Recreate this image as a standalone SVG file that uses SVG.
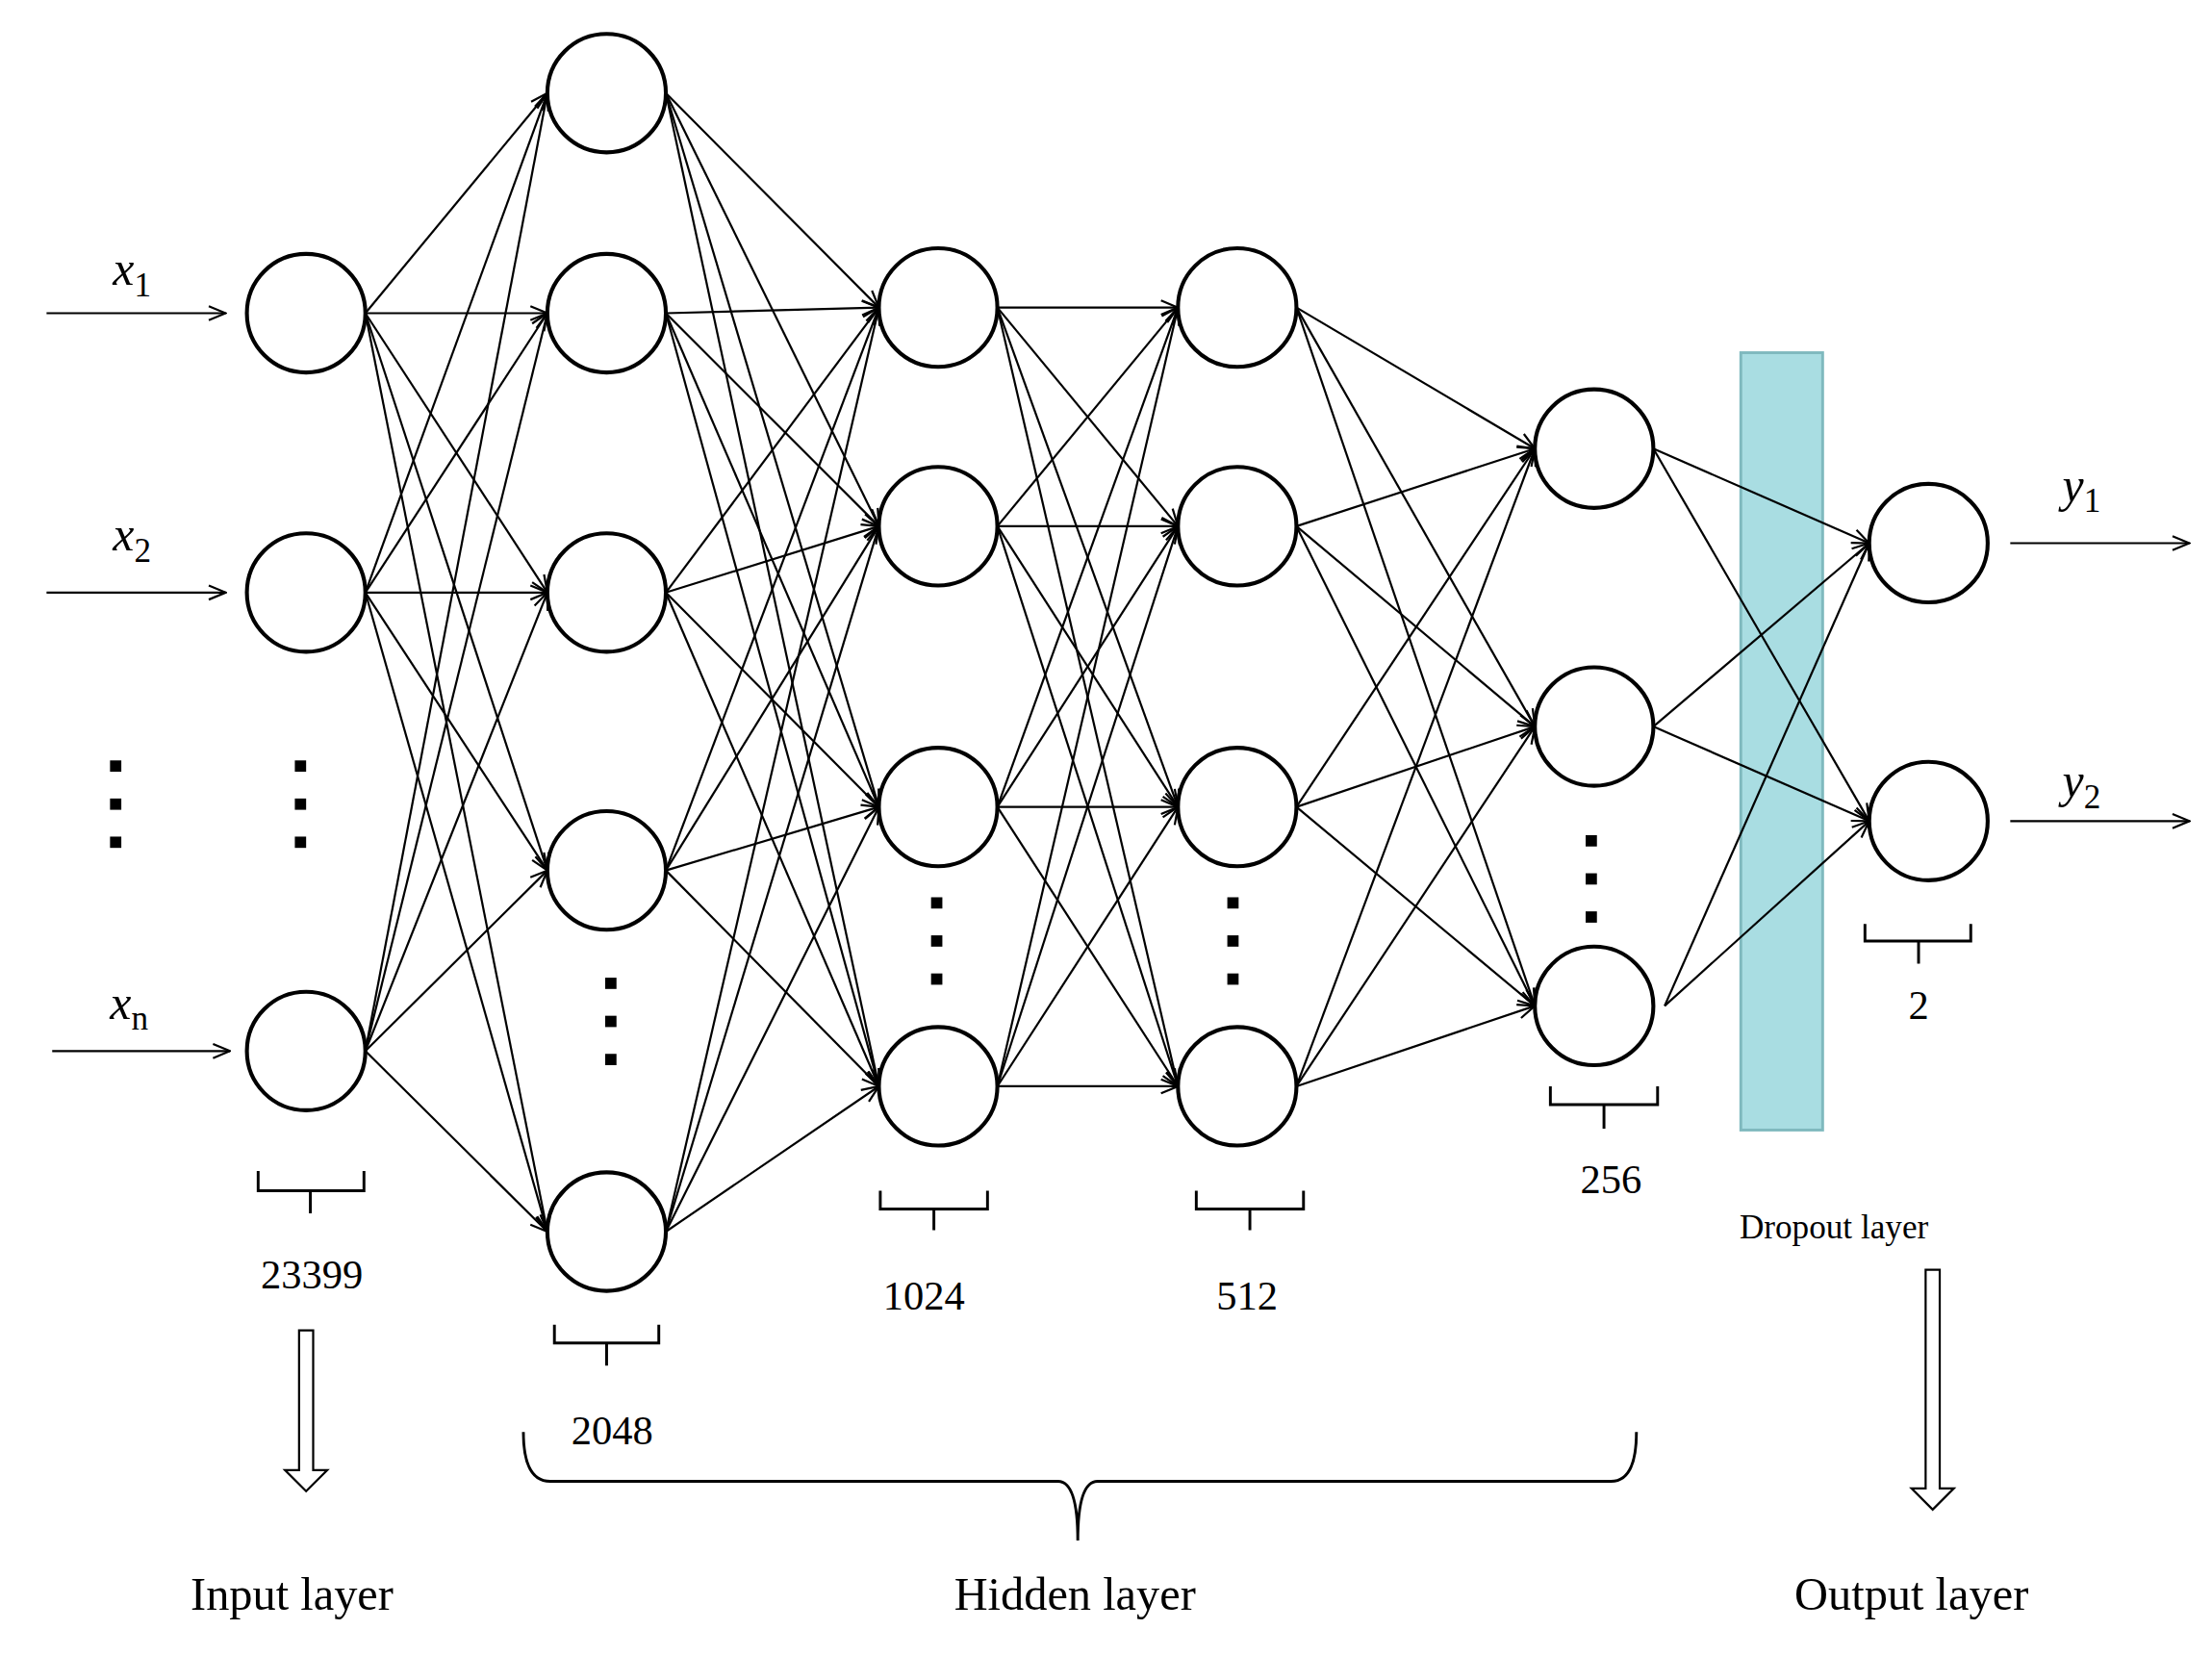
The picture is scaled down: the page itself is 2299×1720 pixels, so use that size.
<svg xmlns="http://www.w3.org/2000/svg" width="2299" height="1720" viewBox="0 0 2299 1720">
<style>
.n{fill:#fff;stroke:#000;stroke-width:2.8}
.c{stroke:#000;stroke-width:1.5;fill:none;marker-end:url(#a)}
.b{stroke:#000;stroke-width:2;fill:none}
.t{font-family:"Liberation Serif",serif;fill:#000}
.d{fill:#000}
</style>
<defs>
<marker id="a" markerUnits="userSpaceOnUse" markerWidth="14" markerHeight="12" refX="13" refY="6" orient="auto"><path d="M1,1 L13,6 L1,11" fill="none" stroke="#000" stroke-width="1.5"/></marker>
</defs>
<rect width="2299" height="1720" fill="#fff"/>
<g transform="scale(1.4662)">
<rect id="dropout" x="1234" y="250" width="58" height="551" fill="#a9dde2" stroke="#7fb9be" stroke-width="2"/>
<g id="connectors">
<path class="c" d="M33,222H160"/><path class="c" d="M33,420H160"/><path class="c" d="M37,745H163"/>
<path class="c" d="M1425,385H1552"/><path class="c" d="M1425,582H1552"/>
<path class="c" d="M259,222L388,66"/><path class="c" d="M259,222L388,222"/><path class="c" d="M259,222L388,420"/><path class="c" d="M259,222L388,617"/><path class="c" d="M259,222L388,873"/>
<path class="c" d="M259,420L388,66"/><path class="c" d="M259,420L388,222"/><path class="c" d="M259,420L388,420"/><path class="c" d="M259,420L388,617"/><path class="c" d="M259,420L388,873"/>
<path class="c" d="M259,745L388,66"/><path class="c" d="M259,745L388,222"/><path class="c" d="M259,745L388,420"/><path class="c" d="M259,745L388,617"/><path class="c" d="M259,745L388,873"/>
<path class="c" d="M472,66L623,218"/><path class="c" d="M472,66L623,373"/><path class="c" d="M472,66L623,572"/><path class="c" d="M472,66L623,770"/>
<path class="c" d="M472,222L623,218"/><path class="c" d="M472,222L623,373"/><path class="c" d="M472,222L623,572"/><path class="c" d="M472,222L623,770"/>
<path class="c" d="M472,420L623,218"/><path class="c" d="M472,420L623,373"/><path class="c" d="M472,420L623,572"/><path class="c" d="M472,420L623,770"/>
<path class="c" d="M472,617L623,218"/><path class="c" d="M472,617L623,373"/><path class="c" d="M472,617L623,572"/><path class="c" d="M472,617L623,770"/>
<path class="c" d="M472,873L623,218"/><path class="c" d="M472,873L623,373"/><path class="c" d="M472,873L623,572"/><path class="c" d="M472,873L623,770"/>
<path class="c" d="M707,218L835,218"/><path class="c" d="M707,218L835,373"/><path class="c" d="M707,218L835,572"/><path class="c" d="M707,218L835,770"/>
<path class="c" d="M707,373L835,218"/><path class="c" d="M707,373L835,373"/><path class="c" d="M707,373L835,572"/><path class="c" d="M707,373L835,770"/>
<path class="c" d="M707,572L835,218"/><path class="c" d="M707,572L835,373"/><path class="c" d="M707,572L835,572"/><path class="c" d="M707,572L835,770"/>
<path class="c" d="M707,770L835,218"/><path class="c" d="M707,770L835,373"/><path class="c" d="M707,770L835,572"/><path class="c" d="M707,770L835,770"/>
<path class="c" d="M919,218L1088,318"/><path class="c" d="M919,218L1088,515"/><path class="c" d="M919,218L1088,713"/>
<path class="c" d="M919,373L1088,318"/><path class="c" d="M919,373L1088,515"/><path class="c" d="M919,373L1088,713"/>
<path class="c" d="M919,572L1088,318"/><path class="c" d="M919,572L1088,515"/><path class="c" d="M919,572L1088,713"/>
<path class="c" d="M919,770L1088,318"/><path class="c" d="M919,770L1088,515"/><path class="c" d="M919,770L1088,713"/>
<path class="c" d="M1172,318L1325,385"/><path class="c" d="M1172,318L1325,582"/>
<path class="c" d="M1172,515L1325,385"/><path class="c" d="M1172,515L1325,582"/>
<path class="c" d="M1180,713L1325,385"/><path class="c" d="M1180,713L1325,582"/>
</g>
<g id="input">
<circle class="n" cx="217" cy="222" r="42"/><circle class="n" cx="217" cy="420" r="42"/><circle class="n" cx="217" cy="745" r="42"/>
</g>
<g id="h2048">
<circle class="n" cx="430" cy="66" r="42"/><circle class="n" cx="430" cy="222" r="42"/><circle class="n" cx="430" cy="420" r="42"/><circle class="n" cx="430" cy="617" r="42"/><circle class="n" cx="430" cy="873" r="42"/>
</g>
<g id="h1024">
<circle class="n" cx="665" cy="218" r="42"/><circle class="n" cx="665" cy="373" r="42"/><circle class="n" cx="665" cy="572" r="42"/><circle class="n" cx="665" cy="770" r="42"/>
</g>
<g id="h512">
<circle class="n" cx="877" cy="218" r="42"/><circle class="n" cx="877" cy="373" r="42"/><circle class="n" cx="877" cy="572" r="42"/><circle class="n" cx="877" cy="770" r="42"/>
</g>
<g id="h256">
<circle class="n" cx="1130" cy="318" r="42"/><circle class="n" cx="1130" cy="515" r="42"/><circle class="n" cx="1130" cy="713" r="42"/>
</g>
<g id="output">
<circle class="n" cx="1367" cy="385" r="42"/><circle class="n" cx="1367" cy="582" r="42"/>
</g>
<g id="dots">
<rect class="d" x="78" y="539" width="8" height="8"/><rect class="d" x="78" y="566" width="8" height="8"/><rect class="d" x="78" y="593" width="8" height="8"/>
<rect class="d" x="209" y="539" width="8" height="8"/><rect class="d" x="209" y="566" width="8" height="8"/><rect class="d" x="209" y="593" width="8" height="8"/>
<rect class="d" x="429" y="693" width="8" height="8"/><rect class="d" x="429" y="720" width="8" height="8"/><rect class="d" x="429" y="747" width="8" height="8"/>
<rect class="d" x="660" y="636" width="8" height="8"/><rect class="d" x="660" y="663" width="8" height="8"/><rect class="d" x="660" y="690" width="8" height="8"/>
<rect class="d" x="870" y="636" width="8" height="8"/><rect class="d" x="870" y="663" width="8" height="8"/><rect class="d" x="870" y="690" width="8" height="8"/>
<rect class="d" x="1124" y="592" width="8" height="8"/><rect class="d" x="1124" y="619" width="8" height="8"/><rect class="d" x="1124" y="646" width="8" height="8"/>
</g>
<g id="braces">
<path class="b" d="M183,830V844H258V830M220,844V860"/>
<path class="b" d="M393,939V952H467V939M430,952V968"/>
<path class="b" d="M624,844V857H700V844M662,857V872"/>
<path class="b" d="M848,844V857H924V844M886,857V872"/>
<path class="b" d="M1099,770V783H1175V770M1137,783V800"/>
<path class="b" d="M1322,655V667H1397V655M1360,667V683"/>
<path class="b" d="M371,1015Q371,1050 390,1050H750Q764,1050 764,1092Q764,1050 778,1050H1142Q1160,1050 1160,1015"/>
</g>
<g id="arrows">
<path d="M212,943V1042H202L217,1057L232,1042H222V943Z" fill="#fff" stroke="#000" stroke-width="1.5"/>
<path d="M1365,900V1055H1355L1370,1070L1385,1055H1375V900Z" fill="#fff" stroke="#000" stroke-width="1.5"/>
</g>
<g id="labels" class="t" font-size="34">
<text x="80" y="202" font-style="italic">x<tspan font-style="normal" font-size="24" dy="8">1</tspan></text>
<text x="80" y="390" font-style="italic">x<tspan font-style="normal" font-size="24" dy="8">2</tspan></text>
<text x="78" y="722" font-style="italic">x<tspan font-style="normal" font-size="24" dy="8">n</tspan></text>
<text x="1462" y="355" font-style="italic">y<tspan font-style="normal" font-size="24" dy="8">1</tspan></text>
<text x="1462" y="565" font-style="italic">y<tspan font-style="normal" font-size="24" dy="8">2</tspan></text>
<g font-size="29" text-anchor="middle">
<text x="221" y="913">23399</text>
<text x="434" y="1024">2048</text>
<text x="655" y="928">1024</text>
<text x="884" y="928">512</text>
<text x="1142" y="846">256</text>
<text x="1360" y="722">2</text>
</g>
<text x="1300" y="878" font-size="24" text-anchor="middle">Dropout layer</text>
<g font-size="33" text-anchor="middle">
<text x="207" y="1141">Input layer</text>
<text x="762" y="1141">Hidden layer</text>
<text x="1355" y="1141">Output layer</text>
</g>
</g>
</g>
</svg>
